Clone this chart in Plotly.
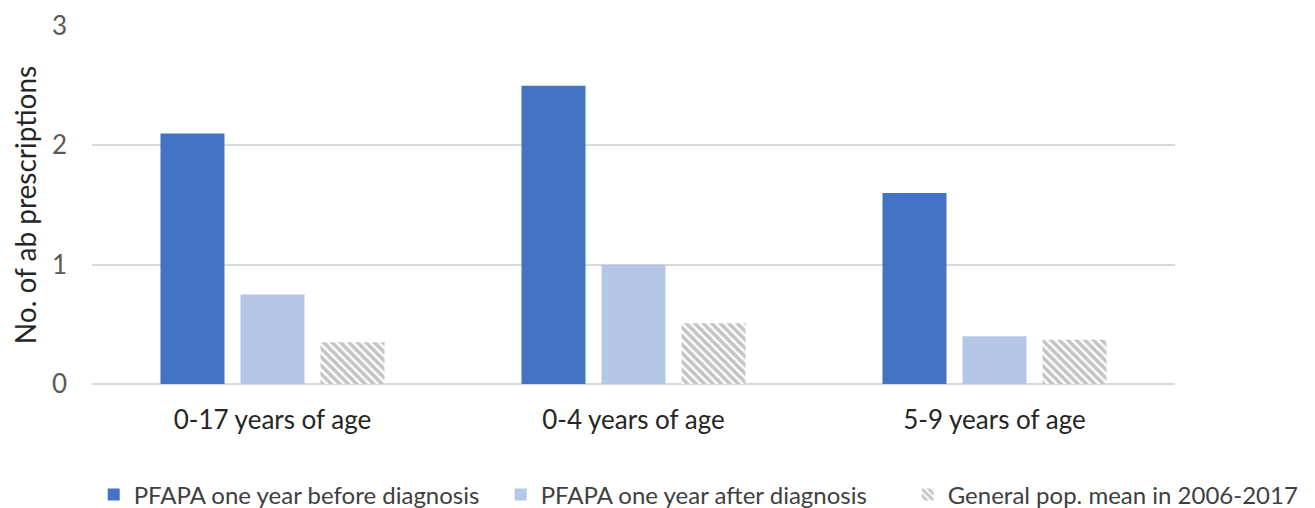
import plotly.graph_objects as go

categories = ["0-17 years of age", "0-4 years of age", "5-9 years of age"]
before_diag = [2.1, 2.5, 1.6]
after_diag = [0.75, 1.0, 0.4]
general_pop = [0.35, 0.51, 0.37]
series_names = ["PFAPA one year before diagnosis", "PFAPA one year after diagnosis",
                "General pop. mean in 2006-2017"]
y_ticks = [0, 1, 2, 3]

FONT = "Lato"

fig = go.Figure()
fig.add_trace(go.Bar(x=categories, y=before_diag, name=series_names[0],
                     marker=dict(color="#4472C4", line=dict(width=0))))
fig.add_trace(go.Bar(x=categories, y=after_diag, name=series_names[1],
                     marker=dict(color="#B4C7E7", line=dict(width=0))))
fig.add_trace(go.Bar(x=categories, y=general_pop, name=series_names[2],
                     marker=dict(color="white", line=dict(width=0),
                                 pattern=dict(shape="\\", fgcolor="#8A8A8A", bgcolor="white",
                                              size=6, solidity=0.6, fillmode="overlay"))))

fig.update_layout(
    width=1315, height=508,
    margin=dict(l=84, r=148, t=18, b=132, autoexpand=False),
    paper_bgcolor="white", plot_bgcolor="white",
    barmode="group", bargap=0.335, bargroupgap=0.2,
    font=dict(family=FONT, color="#595959", size=26),
    showlegend=True,
    legend=dict(orientation="h", xref="paper", x=1.129, xanchor="right",
                yref="paper", y=-0.31, yanchor="middle",
                font=dict(size=24, color="#404040"), itemwidth=30,
                entrywidth=362, entrywidthmode="pixels",
                traceorder="normal"),
    xaxis=dict(showgrid=False, showline=False, ticks="", automargin=False,
               tickfont=dict(size=26, color="#262626"), ticklabelstandoff=18),
    yaxis=dict(range=[0, 3], tickvals=y_ticks, showgrid=True, gridcolor="#D9D9D9",
               gridwidth=2, zeroline=True, zerolinecolor="#D9D9D9", zerolinewidth=2,
               showline=False, ticks="", automargin=False,
               tickfont=dict(size=26, color="#595959"),
               ticklabelstandoff=24,
               title=dict(text="No. of ab prescriptions", font=dict(size=28, color="#262626"),
                          standoff=12)),
)

fig.write_html("out.html")
